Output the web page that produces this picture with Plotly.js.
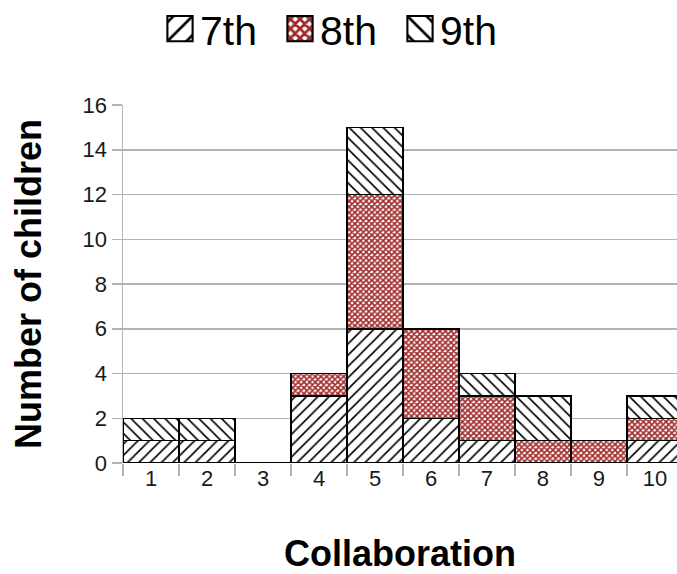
<!DOCTYPE html>
<html>
<head>
<meta charset="utf-8">
<script src="https://cdn.plot.ly/plotly-3.0.1.min.js"></script>
<style>html,body{margin:0;padding:0;background:#fff;}#chart{width:677px;height:574px;}</style>
</head>
<body>
<div id="chart"></div>
<script>
const categories = ["1","2","3","4","5","6","7","8","9","10"];
const seventh = [1,1,0,3,6,2,1,0,0,1];
const eighth  = [0,0,0,1,6,4,2,1,1,1];
const ninth   = [1,1,0,0,3,0,1,2,0,1];
const seriesNames = ["7th","8th","9th"];

const lineStyle = {color:"#000", width:1.5};
const traces = [
  {type:"bar", name:seriesNames[0], x:categories, y:seventh,
   marker:{color:"#fff", line:lineStyle, pattern:{shape:"/", fgcolor:"#000", bgcolor:"#fff", size:8, solidity:0.2}}},
  {type:"bar", name:seriesNames[1], x:categories, y:eighth,
   marker:{color:"#fff", line:lineStyle, pattern:{shape:"x", fgcolor:"#a02a2a", bgcolor:"#fff", size:4, solidity:0.65}}},
  {type:"bar", name:seriesNames[2], x:categories, y:ninth,
   marker:{color:"#fff", line:lineStyle, pattern:{shape:"\\", fgcolor:"#000", bgcolor:"#fff", size:8, solidity:0.2}}}
];

const layout = {
  width:677, height:574,
  margin:{l:123, r:0, t:105, b:111},
  barmode:"stack", bargap:0,
  paper_bgcolor:"#fff", plot_bgcolor:"#fff",
  font:{family:"Liberation Sans, Arial, sans-serif", color:"#000"},
  showlegend:true,
  legend:{orientation:"h", xref:"container", yref:"container", x:160/677, xanchor:"left", y:(574-29)/574, yanchor:"middle",
          font:{size:41, color:"#000"}, traceorder:"normal", itemwidth:30, entrywidth:75, entrywidthmode:"pixels"},
  xaxis:{type:"category", range:[-0.5, 9.393], tickson:"boundaries", ticks:"outside", ticklen:12,
         tickcolor:"#b3b3b3", tickwidth:1.5, showgrid:false, showline:false, zeroline:false,
         tickfont:{size:22, color:"#1a1a1a"},
         title:{text:"<b>Collaboration</b>", font:{size:36, color:"#000"}, standoff:60}},
  yaxis:{range:[0,16], dtick:2, ticks:"outside", ticklen:10, tickcolor:"#b3b3b3", tickwidth:1.5,
         showgrid:true, gridcolor:"#b3b3b3", gridwidth:1.5, showline:true, linecolor:"#b3b3b3", linewidth:1.5,
         zeroline:false, tickfont:{size:22, color:"#1a1a1a"},
         title:{text:"<b>Number of children</b>", font:{size:36, color:"#000"}, standoff:30}}
};

Plotly.newPlot("chart", traces, layout, {displayModeBar:false, staticPlot:true}).then(function(gd){
  // enlarge legend swatches to match the reference's large squares
  gd.querySelectorAll(".legend .legendpoints path").forEach(function(p){
    p.setAttribute("transform", "translate(20,0) scale(2.1)");
    p.style.strokeWidth = "1px";
  });
});
</script>
</body>
</html>
